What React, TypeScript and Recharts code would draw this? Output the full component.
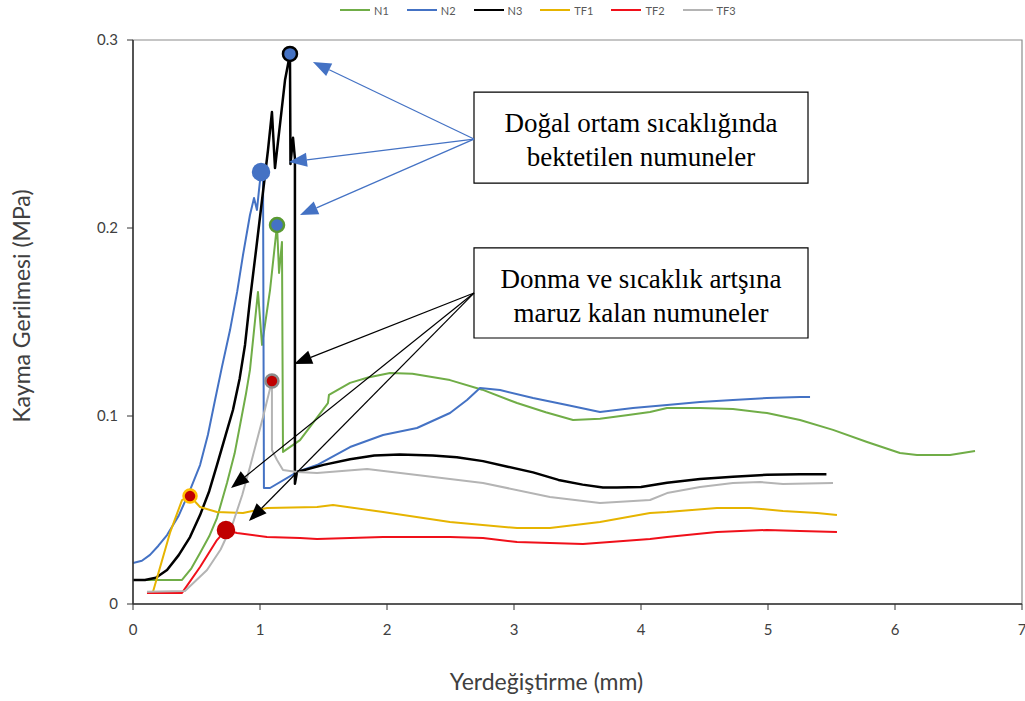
import React from 'react';
import {
  LineChart,
  Line,
  XAxis,
  YAxis,
  Legend,
  ReferenceDot,
  ReferenceLine,
  ReferenceArea,
  Label,
} from 'recharts';

// ---- Data (displacement in mm, shear stress in MPa) ----
const n1X = [0, 0.386, 0.46, 0.528, 0.6, 0.661, 0.74, 0.8, 0.843, 0.89, 0.921, 0.984, 1.016, 1.079, 1.134, 1.15, 1.173, 1.181, 1.315, 1.535, 1.543, 1.709, 1.85, 2.024, 2.2, 2.496, 2.75, 3.024, 3.25, 3.465, 3.677, 3.9, 4.071, 4.205, 4.465, 4.724, 4.992, 5.252, 5.512, 5.78, 6.039, 6.173, 6.433, 6.63];
const n1Y = [0.0128, 0.0128, 0.019, 0.0271, 0.036, 0.0457, 0.0644, 0.08, 0.0952, 0.112, 0.1245, 0.166, 0.1378, 0.167, 0.2016, 0.1761, 0.1926, 0.0809, 0.0872, 0.1069, 0.1112, 0.1176, 0.1205, 0.1229, 0.1225, 0.1191, 0.114, 0.1069, 0.102, 0.0979, 0.0985, 0.1005, 0.1021, 0.1043, 0.1043, 0.1037, 0.1016, 0.0979, 0.0926, 0.0862, 0.0803, 0.0793, 0.0793, 0.0814];

const n2X = [0, 0.07, 0.134, 0.2, 0.268, 0.36, 0.449, 0.528, 0.59, 0.646, 0.7, 0.764, 0.82, 0.866, 0.921, 0.953, 0.976, 0.992, 1.008, 1.024, 1.031, 1.079, 1.291, 1.449, 1.709, 1.969, 2.236, 2.496, 2.63, 2.732, 2.89, 3.15, 3.417, 3.677, 3.937, 4.205, 4.465, 4.724, 4.992, 5.252, 5.331];
const n2Y = [0.0218, 0.023, 0.0261, 0.031, 0.0367, 0.047, 0.0606, 0.0739, 0.09, 0.1085, 0.126, 0.1457, 0.166, 0.1856, 0.2069, 0.216, 0.2096, 0.2202, 0.2298, 0.2266, 0.0617, 0.0617, 0.0702, 0.0739, 0.0835, 0.0899, 0.0936, 0.1016, 0.1085, 0.1149, 0.1138, 0.1096, 0.1059, 0.1021, 0.1043, 0.1059, 0.1074, 0.1085, 0.1096, 0.1101, 0.1101];

const n3X = [0, 0.094, 0.18, 0.268, 0.36, 0.449, 0.528, 0.6, 0.661, 0.73, 0.787, 0.84, 0.882, 0.921, 0.969, 1.016, 1.063, 1.094, 1.118, 1.157, 1.197, 1.236, 1.24, 1.26, 1.275, 1.275, 1.291, 1.5, 1.709, 1.9, 2.1, 2.36, 2.55, 2.756, 2.95, 3.15, 3.35, 3.54, 3.7, 3.81, 4.0, 4.205, 4.465, 4.724, 4.992, 5.252, 5.46];
const n3Y = [0.0128, 0.0128, 0.014, 0.0181, 0.026, 0.0356, 0.0473, 0.06, 0.0739, 0.09, 0.1032, 0.12, 0.1378, 0.1617, 0.1883, 0.2149, 0.2415, 0.2617, 0.2319, 0.2548, 0.2787, 0.2926, 0.234, 0.248, 0.237, 0.064, 0.0702, 0.074, 0.077, 0.079, 0.0795, 0.079, 0.078, 0.076, 0.073, 0.07, 0.066, 0.0635, 0.062, 0.062, 0.0622, 0.0645, 0.0665, 0.0677, 0.0687, 0.069, 0.069];

const tf1X = [0.157, 0.291, 0.386, 0.449, 0.528, 0.661, 0.866, 1.055, 1.449, 1.575, 1.969, 2.496, 3.024, 3.283, 3.677, 4.071, 4.205, 4.598, 4.858, 5.118, 5.386, 5.543];
const tf1Y = [0.0064, 0.0378, 0.0553, 0.0574, 0.0516, 0.0489, 0.0484, 0.0511, 0.0516, 0.0527, 0.0489, 0.0436, 0.0404, 0.0404, 0.0436, 0.0484, 0.0489, 0.0511, 0.0511, 0.0495, 0.0484, 0.0473];

const tf2X = [0.11, 0.386, 0.528, 0.661, 0.732, 0.819, 1.055, 1.315, 1.449, 1.969, 2.496, 2.756, 3.024, 3.543, 4.071, 4.205, 4.598, 4.992, 5.252, 5.543];
const tf2Y = [0.0059, 0.0059, 0.0197, 0.034, 0.0394, 0.0378, 0.0356, 0.0351, 0.0346, 0.0356, 0.0356, 0.0351, 0.033, 0.0319, 0.0346, 0.0356, 0.0383, 0.0394, 0.0388, 0.0383];

const tf3X = [0.11, 0.409, 0.583, 0.69, 0.787, 0.86, 0.921, 1.024, 1.094, 1.094, 1.134, 1.181, 1.291, 1.449, 1.843, 2.236, 2.756, 3.283, 3.677, 4.071, 4.205, 4.465, 4.724, 4.937, 5.118, 5.512];
const tf3Y = [0.0065, 0.0069, 0.0181, 0.029, 0.0431, 0.058, 0.0729, 0.0995, 0.1186, 0.0819, 0.0766, 0.0713, 0.0702, 0.0697, 0.0718, 0.0686, 0.0644, 0.0569, 0.0537, 0.0553, 0.059, 0.0622, 0.0644, 0.0649, 0.0638, 0.0644];

const seriesNames = ['N1', 'N2', 'N3', 'TF1', 'TF2', 'TF3'];
const seriesColors = ['#70AD47', '#4472C4', '#000000', '#E6B400', '#F0101A', '#B4B4B4'];
const seriesWidths = [2, 2, 2.5, 2, 2, 2];

// Peak markers
const peakX = [1.134, 1.008, 1.236, 0.449, 0.732, 1.094];
const peakY = [0.2016, 0.2298, 0.2926, 0.0574, 0.0394, 0.1186];
const peakFill = ['#4472C4', '#4472C4', '#4472C4', '#C00000', '#C00000', '#C00000'];
const peakStroke = ['#5A9A32', '#4472C4', '#000000', '#FFC000', '#C00000', '#8C8C8C'];
const peakR = [7, 8, 7, 6.5, 8, 6.5];

// Annotation boxes
const boxX = [2.685, 5.315];
const box1Y = [0.2239, 0.2723];
const box2Y = [0.1415, 0.1894];
const box1Lines = ['Doğal ortam sıcaklığında', 'bektetilen numuneler'];
const box2Lines = ['Donma ve sıcaklık artşına', 'maruz kalan numuneler'];

// Arrows (start at box, end at tip)
const blueStart = { x: 2.685, y: 0.2473 };
const blueTipsX = [1.417, 1.228, 1.315];
const blueTipsY = [0.2883, 0.2351, 0.2069];
const blackStart = { x: 2.685, y: 0.1654 };
const blackTipsX = [1.268, 0.772, 0.913];
const blackTipsY = [0.1277, 0.0617, 0.0441];

const xTicks = [0, 1, 2, 3, 4, 5, 6, 7];
const yTicks = [0, 0.1, 0.2, 0.3];

const seriesX = [n1X, n2X, n3X, tf1X, tf2X, tf3X];
const seriesY = [n1Y, n2Y, n3Y, tf1Y, tf2Y, tf3Y];
const seriesData = seriesX.map((xs, i) => xs.map((x, j) => ({ x, y: seriesY[i][j] })));

const SANS = 'Lato, "Open Sans", sans-serif';
const SERIF = '"Liberation Serif", "Times New Roman", serif';

const makeArrow = (color: string) => (p: any) => {
  const { x1, y1, x2, y2 } = p;
  const dx = x2 - x1;
  const dy = y2 - y1;
  const len = Math.hypot(dx, dy) || 1;
  const ux = dx / len;
  const uy = dy / len;
  const hl = 18;
  const hw = 7;
  const bx = x2 - ux * hl;
  const by = y2 - uy * hl;
  return (
    <g>
      <line x1={x1} y1={y1} x2={bx} y2={by} stroke={color} strokeWidth={1.2} />
      <polygon
        points={`${x2},${y2} ${bx - uy * hw},${by + ux * hw} ${bx + uy * hw},${by - ux * hw}`}
        fill={color}
      />
    </g>
  );
};

const boxLabel = (lines: string[]) => (props: any) => {
  const vb = props.viewBox || {};
  const cx = vb.x + vb.width / 2;
  return (
    <g>
      {lines.map((t, i) => (
        <text
          key={i}
          x={cx}
          y={vb.y + 31 + i * 34}
          textAnchor="middle"
          dominantBaseline="central"
          fontFamily={SERIF}
          fontSize={27}
          fill="#000"
        >
          {t}
        </text>
      ))}
    </g>
  );
};

const renderLegend = () => (
  <div
    style={{
      display: 'flex',
      alignItems: 'center',
      height: 20,
      fontFamily: SANS,
      fontSize: 11,
      color: '#595959',
      whiteSpace: 'nowrap',
    }}
  >
    {seriesNames.map((n, i) => (
      <div key={n} style={{ display: 'flex', alignItems: 'center', marginRight: 18 }}>
        <span
          style={{
            display: 'inline-block',
            width: 30,
            height: 2.5,
            background: seriesColors[i],
            marginRight: 4,
          }}
        />
        <span>{n}</span>
      </div>
    ))}
  </div>
);

const yTitle = () => (
  <text
    x={21}
    y={306}
    transform="rotate(-90 21 306)"
    textAnchor="middle"
    dominantBaseline="central"
    fontFamily={SANS}
    fontSize={23}
    fill="#404040"
  >
    Kayma Gerilmesi (MPa)
  </text>
);

export default function App() {
  return (
    <div style={{ width: 1025, height: 701, background: '#fff', overflow: 'hidden' }}>
      <style>{'html,body{margin:0;padding:0;overflow:hidden;}'}</style>
      <LineChart
        width={1025}
        height={701}
        margin={{ top: 40, right: 3, bottom: 67, left: 73 }}
      >
        <ReferenceArea
          x1={0}
          x2={7}
          y1={0}
          y2={0.3}
          fill="none"
          stroke="#8c8c8c"
          strokeWidth={1.2}
          ifOverflow="visible"
        />
        <XAxis
          type="number"
          dataKey="x"
          domain={[0, 7]}
          ticks={xTicks}
          interval={0}
          allowDataOverflow
          height={30}
          tickSize={6}
          tickMargin={14}
          axisLine={{ stroke: '#333', strokeWidth: 1.5 }}
          tickLine={{ stroke: '#333' }}
          tick={{ fontFamily: SANS, fontSize: 15, fill: '#404040' }}
        >
          <Label
            value="Yerdeğiştirme (mm)"
            position="bottom"
            offset={40}
            dx={-31}
            style={{ fontFamily: SANS, fontSize: 23, fill: '#404040' }}
          />
        </XAxis>
        <YAxis
          type="number"
          dataKey="y"
          domain={[0, 0.3]}
          ticks={yTicks}
          interval={0}
          allowDataOverflow
          width={60}
          tickSize={6}
          tickMargin={9}
          axisLine={{ stroke: '#333', strokeWidth: 1.5 }}
          tickLine={{ stroke: '#333' }}
          tick={{ fontFamily: SANS, fontSize: 15, fill: '#404040' }}
        >
          <Label content={yTitle} />
        </YAxis>
        <Legend
          layout="horizontal"
          verticalAlign="middle"
          align="center"
          content={renderLegend}
          wrapperStyle={{ top: 0, left: 340, width: 460, height: 20 }}
        />
        {seriesData.map((d, i) => (
          <Line
            key={seriesNames[i]}
            data={d}
            dataKey="y"
            name={seriesNames[i]}
            type="linear"
            stroke={seriesColors[i]}
            strokeWidth={seriesWidths[i]}
            strokeLinejoin="round"
            dot={false}
            activeDot={false}
            isAnimationActive={false}
          />
        ))}
        <ReferenceArea
          x1={boxX[0]}
          x2={boxX[1]}
          y1={box1Y[0]}
          y2={box1Y[1]}
          fill="#fff"
          fillOpacity={1}
          stroke="#000"
          strokeWidth={1.2}
          label={boxLabel(box1Lines)}
        />
        <ReferenceArea
          x1={boxX[0]}
          x2={boxX[1]}
          y1={box2Y[0]}
          y2={box2Y[1]}
          fill="#fff"
          fillOpacity={1}
          stroke="#000"
          strokeWidth={1.2}
          label={boxLabel(box2Lines)}
        />
        {blueTipsX.map((tx, i) => (
          <ReferenceLine
            key={'b' + i}
            segment={[blueStart, { x: tx, y: blueTipsY[i] }]}
            shape={makeArrow('#4472C4')}
            ifOverflow="visible"
          />
        ))}
        {blackTipsX.map((tx, i) => (
          <ReferenceLine
            key={'k' + i}
            segment={[blackStart, { x: tx, y: blackTipsY[i] }]}
            shape={makeArrow('#000000')}
            ifOverflow="visible"
          />
        ))}
        {peakX.map((px, i) => (
          <ReferenceDot
            key={'p' + i}
            x={px}
            y={peakY[i]}
            r={peakR[i]}
            fill={peakFill[i]}
            stroke={peakStroke[i]}
            strokeWidth={2.5}
            ifOverflow="visible"
          />
        ))}
      </LineChart>
    </div>
  );
}
